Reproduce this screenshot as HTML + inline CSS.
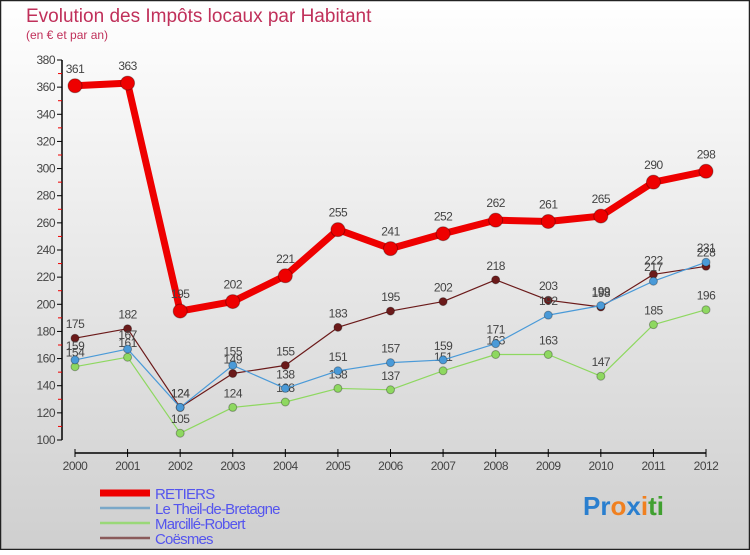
<!DOCTYPE html>
<html><head><meta charset="utf-8"><style>
html,body{margin:0;padding:0}
body{width:750px;height:550px;overflow:hidden;font-family:"Liberation Sans",sans-serif}
</style></head><body>
<svg id="chart" width="750" height="550" xmlns="http://www.w3.org/2000/svg">
<defs><linearGradient id="bg" x1="0" y1="0" x2="0" y2="1"><stop offset="0" stop-color="#ffffff"/><stop offset="1" stop-color="#cfcfcf"/></linearGradient></defs>
<rect x="0.5" y="0.5" width="749" height="549" fill="url(#bg)" stroke="#222" stroke-width="1.5"/>
<text x="26" y="22" font-size="19" fill="#c0305a">Evolution des Impôts locaux par Habitant</text>
<text x="26" y="39" font-size="12" fill="#c0305a">(en € et par an)</text>
<g id="axes"></g>
<g id="series"></g>
<g id="legend"></g>
<text x="583" y="515" font-size="26" font-weight="bold"><tspan fill="#2a7fcf">Pr</tspan><tspan fill="#f08020">o</tspan><tspan fill="#2a7fcf">x</tspan><tspan fill="#f08020">i</tspan><tspan fill="#40a030">ti</tspan></text>
</svg>
<script>
const years=[2000,2001,2002,2003,2004,2005,2006,2007,2008,2009,2010,2011,2012];
const retiers=[361,363,195,202,221,255,241,252,262,261,265,290,298];
const theil=[159,167,124,155,138,151,157,159,171,192,199,217,231];
const marcille=[154,161,105,124,128,138,137,151,163,163,147,185,196];
const coesmes=[175,182,124,149,155,183,195,202,218,203,198,222,228];
const yTicks=[100,120,140,160,180,200,220,240,260,280,300,320,340,360,380];
const NS="http://www.w3.org/2000/svg";
const x=i=>75+i*(706-75)/(years.length-1);
const y=v=>440-(v-100)*(380/280);
function mk(tag,attrs,parent,txt){const e=document.createElementNS(NS,tag);for(const k in attrs)e.setAttribute(k,attrs[k]);if(txt!==undefined)e.textContent=txt;parent.appendChild(e);return e;}
const axes=document.getElementById('axes');
let e=mk('line',{x1:62,y1:y(380),x2:62,y2:y(100),stroke:'#000','stroke-width':1.5},axes);

yTicks.forEach(v=>{
 let t=mk('line',{x1:57,y1:y(v),x2:62,y2:y(v),stroke:'#000'},axes);
 
 let l=mk('text',{x:55,y:y(v)+4,'font-size':12,fill:'#444','text-anchor':'end','letter-spacing':'-0.5'},axes,v);
 
 if(v<380){let m=mk('line',{x1:58,y1:y(v+10),x2:62,y2:y(v+10),stroke:'#e00'},axes);
 }
});
e=mk('line',{x1:75,y1:453,x2:706,y2:453,stroke:'#000','stroke-width':1.5},axes);

years.forEach((yr,i)=>{
 let t=mk('line',{x1:x(i),y1:449,x2:x(i),y2:457,stroke:'#000'},axes);
 
 let l=mk('text',{x:x(i),y:470,'font-size':12,fill:'#444','text-anchor':'middle','letter-spacing':'-0.5'},axes,yr);
 
});
const sg=document.getElementById('series');
function draw(vals,color,w,r,name){
 const g=mk('g',{},sg);
 
 let p=mk('polyline',{points:vals.map((v,i)=>x(i)+','+y(v)).join(' '),fill:'none',stroke:color,'stroke-width':w,'stroke-linejoin':'round'},g);
 
 vals.forEach((v,i)=>{
  let c=mk('circle',{cx:x(i),cy:y(v),r:r,fill:color,stroke:'rgba(0,0,0,0.3)'},g);
  
  let t=mk('text',{x:x(i),y:y(v)-(r+6),'font-size':12,fill:'#444','text-anchor':'middle','letter-spacing':'-0.5'},g,v);
  
 });
}
draw(coesmes,'#6b1a1a',1.2,4,'coesmes');
draw(marcille,'#8ed860',1.2,4,'marcille-robert');
draw(theil,'#4a9ad8',1.2,4,'le-theil-de-bretagne');
draw(retiers,'#ee0000',7,7,'retiers');
const lg=document.getElementById('legend');
const legNames=['RETIERS','Le Theil-de-Bretagne','Marcillé-Robert','Coësmes'];
const legColors=['#ee0000','#7aa8c8','#9ad878','#8a5a5a'];
legNames.forEach((n,i)=>{
 const yy=493+i*15;
 let g=mk('g',{},lg);
 
 let s=mk('line',{x1:100,y1:yy,x2:150,y2:yy,stroke:legColors[i],'stroke-width':i==0?7:2.5},g);
 
 let t=mk('text',{x:155,y:yy+6,'font-size':15,fill:'#5555ee','letter-spacing':'-0.8'},g,n);
 
});
</script>
</body></html>
